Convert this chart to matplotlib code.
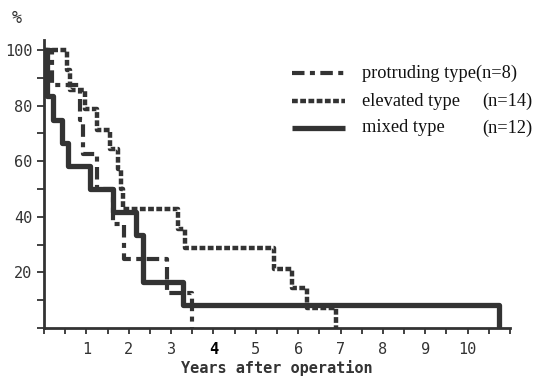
import matplotlib
matplotlib.use("Agg")
import matplotlib.pyplot as plt
from matplotlib.lines import Line2D
from matplotlib.ticker import MultipleLocator

# Kaplan-Meier steps (years, % surviving)
prot_t = [0, 0.2, 0.85, 0.92, 1.24, 1.62, 1.88, 2.9, 3.5]
prot_s = [100, 87.5, 75, 62.5, 50, 37.5, 25, 12.5, 0]

elev_t = [0, 0.55, 0.62, 0.97, 1.25, 1.55, 1.75, 1.82, 1.87, 3.16, 3.33, 5.43, 5.86, 6.2, 6.9]
elev_s = [100, 92.9, 85.7, 78.6, 71.4, 64.3, 57.1, 50, 42.9, 35.7, 28.6, 21.4, 14.3, 7.1, 0]

mixed_t = [0, 0.07, 0.22, 0.42, 0.57, 1.08, 1.63, 2.18, 2.33, 3.27, 10.73]
mixed_s = [100, 83.3, 75, 66.7, 58.3, 50, 41.7, 33.3, 16.7, 8.3, 0]

series_names = ["protruding type(n=8)", "elevated type", "mixed type"]
series_n = ["", "(n=14)", "(n=12)"]
x_ticks = list(range(1, 11))
y_ticks = [20, 40, 60, 80, 100]

ink = "#333333"
prot_style = dict(color=ink, lw=3.0, linestyle=(0, (3, 1.3, 1.2, 1.3)), solid_capstyle="butt", dash_capstyle="butt")
elev_style = dict(color=ink, lw=3.2, linestyle=(0, (1.3, 0.55)), dash_capstyle="butt")
mixed_style = dict(color=ink, lw=3.8, linestyle="-", solid_capstyle="butt")

fig = plt.figure(figsize=(5.37, 3.82), dpi=100)
ax = fig.add_axes([44 / 537, 1 - 328 / 382, 466 / 537, 288 / 382])

ax.step(mixed_t, mixed_s, where="post", **mixed_style)
ax.step(prot_t, prot_s, where="post", **prot_style)
ax.step(elev_t, elev_s, where="post", **elev_style)

ax.set_xlim(0, 11)
ax.set_ylim(0, 103.6)
for s in ["top", "right"]:
    ax.spines[s].set_visible(False)
for s in ["left", "bottom"]:
    ax.spines[s].set_linewidth(2.0)
    ax.spines[s].set_color(ink)

ax.set_xticks(x_ticks)
ax.xaxis.set_minor_locator(MultipleLocator(0.5))
ax.set_yticks(y_ticks)
ax.yaxis.set_minor_locator(MultipleLocator(10))
ax.tick_params(which="both", direction="out", color=ink, width=1.3)
ax.tick_params(axis="x", which="both", length=4, pad=6)
ax.tick_params(axis="y", which="both", length=5)
ax.tick_params(labelsize=11, labelcolor=ink)
for lab in ax.get_xticklabels() + ax.get_yticklabels():
    lab.set_family("DejaVu Sans Mono")
ax.get_xticklabels()[3].set_fontweight("bold")
ax.get_xticklabels()[3].set_color("black")

ax.set_xlabel("Years after operation", family="DejaVu Sans Mono", fontsize=11,
              fontweight="bold", color=ink, labelpad=2)
fig.text(12 / 537, 1 - 18 / 382, "%", family="DejaVu Sans Mono", fontsize=12,
         color=ink, va="center")

# legend drawn by hand so the "(n=..)" parts line up
styles = [prot_style, elev_style, mixed_style]
rows = [73, 101, 128]
for name, n, st, yy in zip(series_names, series_n, styles, rows):
    yf = 1 - yy / 382
    fig.add_artist(Line2D([292 / 537, 345 / 537], [yf, yf], transform=fig.transFigure, **st))
    fig.text(362 / 537, yf, name, family="Liberation Serif", fontsize=13.2,
             color="#111111", va="center")
    if n:
        fig.text(482 / 537, yf, n, family="Liberation Serif", fontsize=13.2,
                 color="#111111", va="center")

fig.savefig("out.png", dpi=100)
